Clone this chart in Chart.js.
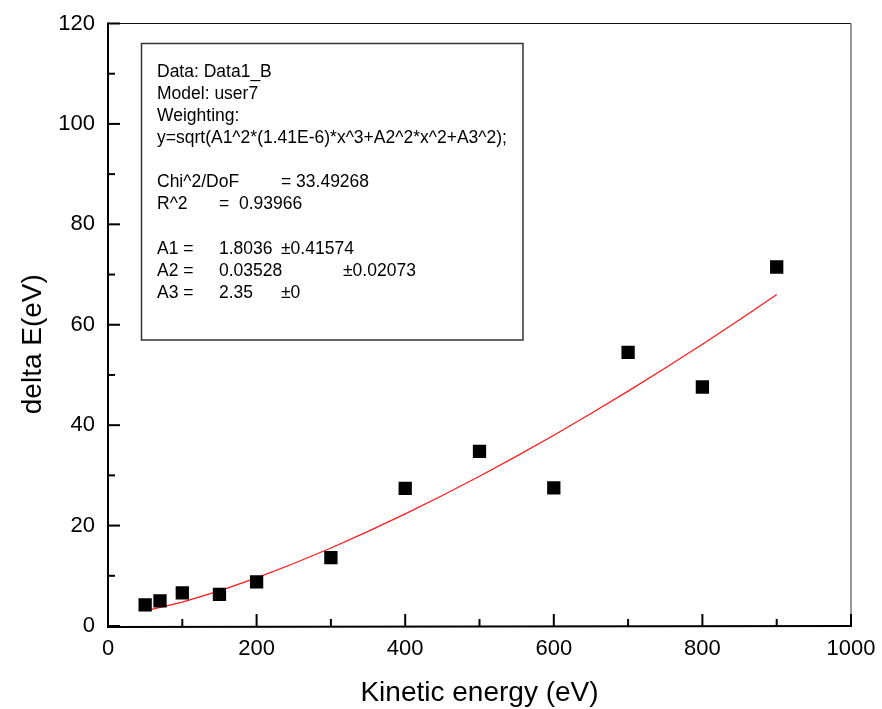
<!DOCTYPE html>
<html><head><meta charset="utf-8">
<script src="https://cdn.jsdelivr.net/npm/chart.js@4/dist/chart.umd.min.js"></script>
<style>html,body{margin:0;padding:0;background:#fff}</style>
</head><body>
<canvas id="c" width="882" height="709"></canvas>
<script>
// Measured points
const energyEV = [50, 70, 100, 150, 200, 300, 400, 500, 600, 700, 800, 900];
const deltaE   = [4.2, 5.0, 6.6, 6.3, 8.8, 13.6, 27.4, 34.8, 27.5, 54.5, 47.6, 71.5];
// Fit curve
const fitX = [50, 100, 150, 200, 250, 300, 350, 400, 450, 500, 550, 600, 650, 700, 750, 800, 850, 900];
const fitY = [3.03, 4.75, 7.00, 9.59, 12.45, 15.54, 18.83, 22.32, 25.99, 29.83, 33.84, 38.00, 42.32, 46.78, 51.39, 56.13, 61.00, 66.01];
// Axis ranges / ticks
const xRange = [0, 1000], xMinorStep = 100, xMajorStep = 200;
const yRange = [0, 120], yMinorStep = 10, yMajorStep = 20;
const xTitle = 'Kinetic energy (eV)';
const yTitle = 'delta E(eV)';
// Fit report text (columns separated like tab stops)
const reportLines = [
  ['Data: Data1_B'],
  ['Model: user7'],
  ['Weighting:'],
  ['y=sqrt(A1^2*(1.41E-6)*x^3+A2^2*x^2+A3^2);'],
  [],
  ['Chi^2/DoF', '', '= 33.49268'],
  ['R^2', '=  0.93966'],
  [],
  ['A1 =', '1.8036', '\u00b10.41574'],
  ['A2 =', '0.03528', '', '\u00b10.02073'],
  ['A3 =', '2.35', '\u00b10']
];

const FONT = '"Liberation Sans", Arial, Helvetica, sans-serif';

const frame = {
  id: 'frame',
  beforeDatasetsDraw(chart) {
    const {ctx, chartArea: a, scales: {x, y}} = chart;
    ctx.save();
    ctx.strokeStyle = '#111'; ctx.lineWidth = 1.2;
    ctx.beginPath(); ctx.moveTo(a.left, a.top); ctx.lineTo(a.right, a.top); ctx.stroke();
    ctx.strokeStyle = '#777'; ctx.lineWidth = 1.5;
    ctx.beginPath(); ctx.moveTo(a.right, a.top); ctx.lineTo(a.right, a.bottom); ctx.stroke();
    ctx.strokeStyle = '#000'; ctx.lineWidth = 2;
    ctx.beginPath(); ctx.moveTo(a.left, a.top - 1); ctx.lineTo(a.left, a.bottom + 1); ctx.lineTo(a.right + 1, a.bottom); ctx.stroke();
    ctx.lineWidth = 2;
    y.ticks.forEach(t => {
      const p = y.getPixelForValue(t.value);
      const len = (t.value % yMajorStep === 0) ? 12 : 7;
      ctx.beginPath(); ctx.moveTo(a.left, p); ctx.lineTo(a.left + len, p); ctx.stroke();
    });
    x.ticks.forEach(t => {
      const p = x.getPixelForValue(t.value);
      const len = (t.value % xMajorStep === 0) ? 12 : 7;
      ctx.beginPath(); ctx.moveTo(p, a.bottom); ctx.lineTo(p, a.bottom - len); ctx.stroke();
    });
    ctx.restore();
  },
  afterDatasetsDraw(chart) {
    const ctx = chart.ctx;
    ctx.save();
    ctx.fillStyle = '#fff';
    ctx.strokeStyle = '#333'; ctx.lineWidth = 1.5;
    ctx.fillRect(141.5, 43.5, 381.5, 296.5);
    ctx.strokeRect(141.5, 43.5, 381.5, 296.5);
    ctx.fillStyle = '#000';
    ctx.font = '17.5px ' + FONT;
    ctx.textBaseline = 'alphabetic';
    const lineH = 22.1, base0 = 76.7;
    const tabs = [157, 219, 281, 343];
    reportLines.forEach((parts, i) => {
      const by = base0 + i * lineH;
      parts.forEach((s, j) => { if (s) ctx.fillText(s, tabs[j], by); });
    });
    ctx.restore();
  }
};

new Chart(document.getElementById('c'), {
  type: 'scatter',
  data: {
    datasets: [
      {
        label: 'fit',
        data: fitX.map((v, i) => ({x: v, y: fitY[i]})),
        showLine: true,
        borderColor: '#ff1a1a',
        borderWidth: 1.3,
        pointRadius: 0,
        fill: false,
        order: 2
      },
      {
        label: 'Data1_B',
        data: energyEV.map((v, i) => ({x: v, y: deltaE[i]})),
        showLine: false,
        pointStyle: 'rect',
        pointRadius: 9.4,
        pointBackgroundColor: '#000',
        pointBorderWidth: 0,
        order: 1
      }
    ]
  },
  options: {
    responsive: false,
    animation: false,
    layout: {padding: {top: 23.5, right: 31, left: 0, bottom: 0}},
    plugins: {legend: {display: false}, tooltip: {enabled: false}},
    scales: {
      x: {
        type: 'linear', min: xRange[0], max: xRange[1],
        grid: {display: false, drawTicks: false}, border: {display: false},
        ticks: {
          stepSize: xMinorStep, autoSkip: false, maxRotation: 0, padding: 10,
          color: '#000', font: {family: FONT, size: 22},
          callback: v => (v % xMajorStep === 0 ? String(v) : '')
        },
        title: {display: true, text: xTitle, color: '#000',
                font: {family: FONT, size: 28, lineHeight: 1.1}, padding: {top: 0, bottom: 0}},
        afterFit: s => { s.height = 83; s.paddingLeft = 0; s.paddingRight = 0; }
      },
      y: {
        type: 'linear', min: yRange[0], max: yRange[1],
        grid: {display: false, drawTicks: false}, border: {display: false},
        ticks: {
          stepSize: yMinorStep, autoSkip: false, padding: 13,
          color: '#000', font: {family: FONT, size: 22},
          callback: v => (v % yMajorStep === 0 ? String(v) : '')
        },
        title: {display: true, text: yTitle + '     ', color: '#000',
                font: {family: FONT, size: 28, lineHeight: 1.2}, padding: {top: 16, bottom: 0}},
        afterFit: s => { s.width = 108; s.paddingTop = 0; s.paddingBottom = 0; }
      }
    }
  },
  plugins: [frame]
});
</script>
</body></html>
